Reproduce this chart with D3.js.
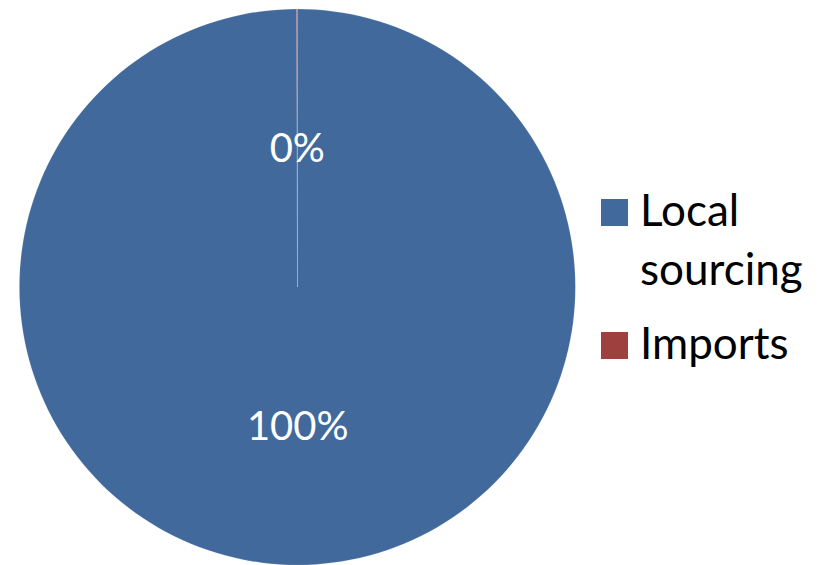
<!DOCTYPE html>
<html>
<head>
<meta charset="utf-8">
<script src="https://cdn.jsdelivr.net/npm/d3@7"></script>
<style>
  html, body { margin: 0; padding: 0; background: #fff; }
  svg { display: block; }
</style>
</head>
<body>
<svg id="chart" width="823" height="565"></svg>
<script>
// Share of sourcing by origin
const categories = ["Local sourcing", "Imports"];
const shares = [99.95, 0.05];
const colors = ["#41699C", "#9E413E"];

const width = 823, height = 565;
const cx = 297.5, cy = 287, radius = 278;
const fontFamily = "Lato, 'Open Sans', sans-serif";

const svg = d3.select("#chart");

const data = categories.map((c, i) => ({ name: c, value: shares[i] }));
const total = d3.sum(shares);

const pie = d3.pie().value(d => d.value).sort(null);
const arcs = pie(data);

const arc = d3.arc().innerRadius(0).outerRadius(radius);
const labelArc = d3.arc().innerRadius(radius * 0.5).outerRadius(radius * 0.5);

const color = d3.scaleOrdinal().domain(categories).range(colors);

const g = svg.append("g").attr("transform", `translate(${cx},${cy})`);

g.selectAll("path.slice")
  .data(arcs)
  .join("path")
  .attr("class", "slice")
  .attr("d", arc)
  .attr("fill", d => color(d.data.name))
  .attr("stroke", "#ffffff")
  .attr("stroke-opacity", 0.18)
  .attr("stroke-width", 0.8);

// Percentage labels
const pct = d3.format(".0%");
g.selectAll("text.value")
  .data(arcs)
  .join("text")
  .attr("class", "value")
  .attr("transform", d => `translate(${labelArc.centroid(d)})`)
  .attr("text-anchor", "middle")
  .attr("dy", "0.35em")
  .attr("fill", "#ffffff")
  .style("font-family", fontFamily)
  .style("font-size", "40px")
  .text(d => pct(Math.round(d.value / total * 100) / 100));

// Legend
const legend = svg.append("g").attr("transform", "translate(601,199)");
const legendItems = [
  { name: categories[0], lines: ["Local", "sourcing"], y: 0 },
  { name: categories[1], lines: ["Imports"], y: 133 }
];
const item = legend.selectAll("g.item")
  .data(legendItems)
  .join("g")
  .attr("class", "item")
  .attr("transform", d => `translate(0,${d.y})`);

item.append("rect")
  .attr("width", 27)
  .attr("height", 27)
  .attr("fill", d => color(d.name));

item.append("text")
  .attr("x", 39)
  .attr("y", 27)
  .style("font-family", fontFamily)
  .style("font-size", "44px")
  .attr("fill", "#000")
  .selectAll("tspan")
  .data(d => d.lines)
  .join("tspan")
  .attr("x", 39)
  .attr("dy", (d, i) => i === 0 ? 0 : 59)
  .text(d => d);
</script>
</body>
</html>
